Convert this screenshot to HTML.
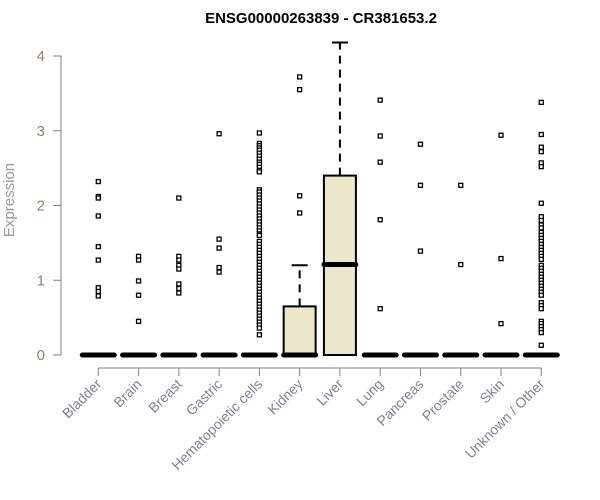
<!DOCTYPE html>
<html><head><meta charset="utf-8"><style>
body{margin:0;background:#fff}
svg{display:block;font-family:"Liberation Sans",Arial,sans-serif}
</style></head><body>
<svg id="chart" width="600" height="500">
<text x="321" y="23" text-anchor="middle" font-weight="bold" font-size="15" fill="#000">ENSG00000263839 - CR381653.2</text>
<text transform="translate(14,200) rotate(-90)" text-anchor="middle" font-size="15" fill="#999">Expression</text>
<g id="yaxis"></g>
<g id="xaxis"></g>
<g id="plot"></g>
</svg>
<script>
const categories=["Bladder","Brain","Breast","Gastric","Hematopoietic cells","Kidney","Liver","Lung","Pancreas","Prostate","Skin","Unknown / Other"];
const q1=[0,0,0,0,0,0,0,0,0,0,0,0];
const medians=[0,0,0,0,0,0,1.21,0,0,0,0,0];
const q3=[0,0,0,0,0,0.65,2.40,0,0,0,0,0];
const whiskerHigh=[0,0,0,0,0,1.2,4.18,0,0,0,0,0];
const outliers=[
[2.32,2.12,2.10,1.86,1.45,1.27,0.9,0.85,0.79],
[1.32,1.27,0.99,0.80,0.45],
[2.10,1.32,1.27,1.20,1.15,0.95,0.89,0.83],
[2.96,1.55,1.43,1.17,1.11],
[2.97,2.83,2.80,2.77,2.74,2.70,2.66,2.62,2.58,2.55,2.51,2.47,2.45,2.21,2.18,2.14,2.10,2.06,2.02,1.98,1.94,1.90,1.86,1.82,1.78,1.74,1.70,1.66,1.62,1.60,1.52,1.48,1.44,1.40,1.36,1.32,1.28,1.24,1.20,1.16,1.12,1.08,1.04,1.00,0.96,0.92,0.88,0.84,0.80,0.76,0.72,0.68,0.64,0.60,0.56,0.52,0.48,0.44,0.40,0.36,0.27],
[3.72,3.55,2.13,1.90],
[],
[3.41,2.93,2.58,1.81,0.62],
[2.82,2.27,1.39],
[2.27,1.21],
[2.94,1.29,0.42],
[3.38,2.95,2.78,2.72,2.57,2.52,2.03,1.85,1.80,1.74,1.70,1.64,1.60,1.56,1.52,1.48,1.44,1.40,1.36,1.32,1.28,1.20,1.16,1.12,1.08,1.04,1.00,0.96,0.92,0.88,0.84,0.80,0.70,0.66,0.62,0.45,0.42,0.38,0.34,0.30,0.13]
];
const yTicks=[0,1,2,3,4];
const NS="http://www.w3.org/2000/svg";
const y=v=>355-v*74.75;
const x=i=>98.3+i*40.27;
function mk(tag,attrs,parent){const e=document.createElementNS(NS,tag);for(const k in attrs)e.setAttribute(k,attrs[k]);parent.appendChild(e);return e;}
const ya=document.getElementById('yaxis'),xa=document.getElementById('xaxis'),pl=document.getElementById('plot');
mk('line',{x1:61,x2:61,y1:y(yTicks[0]),y2:y(yTicks[yTicks.length-1]),stroke:'#808080'},ya);
yTicks.forEach(t=>{
  const l=mk('line',{x1:53,x2:61,y1:y(t),y2:y(t),stroke:'#808080'},ya);
  
  
  const tx=mk('text',{x:45,y:y(t)+5,'text-anchor':'end','font-size':15,fill:'#908070'},ya);
  tx.textContent=t;
  
  
});
mk('line',{x1:x(0),x2:x(categories.length-1),y1:368,y2:368,stroke:'#808080'},xa);
categories.forEach((c,i)=>{
  const l=mk('line',{x1:x(i),x2:x(i),y1:368,y2:376,stroke:'#808080'},xa);
  
  
  const t=mk('text',{transform:`translate(${x(i)+4},${385}) rotate(-45)`,'text-anchor':'end','font-size':14,fill:'#808090'},xa);
  t.textContent=c;
  
  
});
const hw=16;
categories.forEach((c,i)=>{
  const g=mk('g',{},pl);
  
  
  const cx=x(i);
  if(whiskerHigh[i]>q3[i]){
    mk('line',{x1:cx,x2:cx,y1:y(q3[i]),y2:y(whiskerHigh[i]),stroke:'#000','stroke-width':2,'stroke-dasharray':'8,6'},g);
    mk('line',{x1:cx-8,x2:cx+8,y1:y(whiskerHigh[i]),y2:y(whiskerHigh[i]),stroke:'#000','stroke-width':2},g);
  }
  if(q3[i]>q1[i]){
    mk('rect',{x:cx-hw,y:y(q3[i]),width:hw*2,height:y(q1[i])-y(q3[i]),fill:'#ede7cb',stroke:'#000','stroke-width':2},g);
  }
  mk('line',{x1:cx-hw,x2:cx+hw,y1:y(medians[i]),y2:y(medians[i]),stroke:'#000','stroke-width':5,'stroke-linecap':'round'},g);
  outliers[i].forEach(v=>{
    const p=mk('rect',{x:cx-2,y:y(v)-2,width:4,height:4,fill:'#fff',stroke:'#000','stroke-width':1.3},g);
    
    
  });
});
</script>
</body></html>
